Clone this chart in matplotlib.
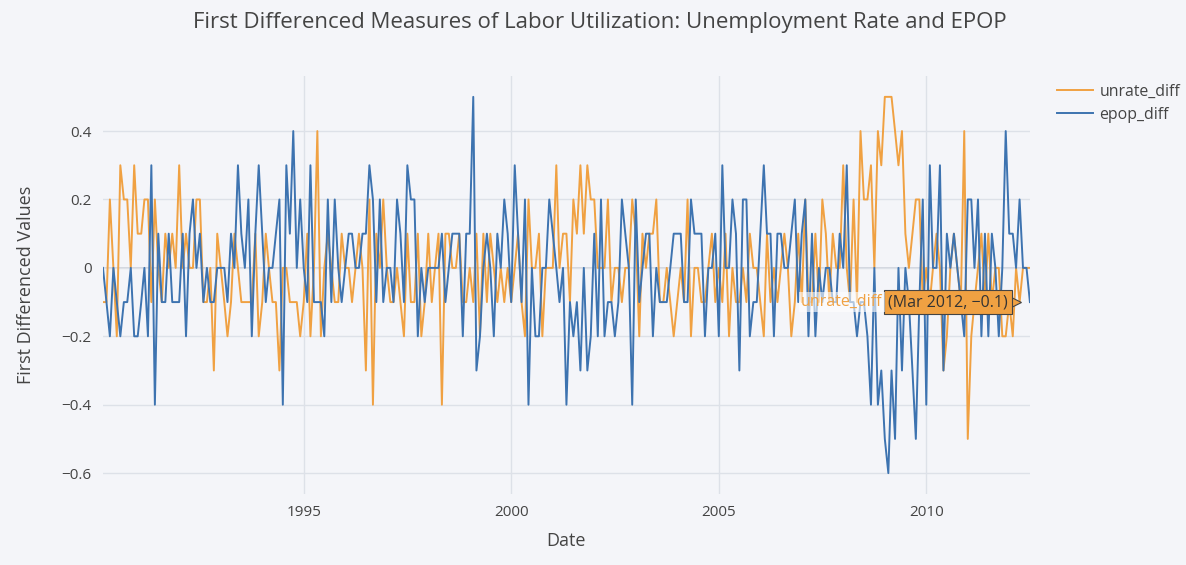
import numpy as np
import pandas as pd
import matplotlib
matplotlib.use('Agg')
import matplotlib.pyplot as plt
import matplotlib.dates as mdates
from matplotlib.transforms import offset_copy

plt.rcParams['font.family'] = ['Open Sans', 'DejaVu Sans']

# monthly first differences, Feb 1990 - Jun 2012 (month-end dates)
dates = pd.date_range('1990-02-28', '2012-06-30', freq='ME')

unrate_diff = [
    # 1990 (Feb-Dec)
    -0.1, -0.1, 0.2, 0.0, -0.2, 0.3, 0.2, 0.2, 0.0, 0.3, 0.1,
    # 1991
    0.1, 0.2, 0.2, -0.1, 0.2, 0.0, -0.1, 0.1, 0.0, 0.1, 0.0, 0.3,
    # 1992
    0.0, 0.1, 0.0, 0.0, 0.2, 0.2, -0.1, -0.1, 0.0, -0.3, 0.1, 0.0,
    # 1993
    -0.1, -0.2, -0.1, 0.1, 0.0, -0.1, -0.1, -0.1, -0.1, 0.1, -0.2, -0.1,
    # 1994
    0.1, 0.0, -0.1, -0.1, -0.3, 0.0, 0.0, -0.1, -0.1, -0.1, -0.2, -0.1,
    # 1995
    0.1, -0.2, 0.0, 0.4, -0.2, 0.0, 0.1, 0.0, -0.1, -0.1, 0.1, 0.0,
    # 1996
    0.0, -0.1, 0.0, 0.1, 0.0, -0.3, 0.2, -0.4, 0.1, 0.0, 0.2, 0.0,
    # 1997
    -0.1, -0.1, 0.0, -0.1, -0.2, 0.1, -0.1, -0.1, 0.1, -0.2, -0.1, 0.1,
    # 1998
    -0.1, 0.0, 0.1, -0.4, 0.1, 0.1, 0.0, 0.0, 0.1, -0.1, -0.1, 0.0,
    # 1999
    -0.1, 0.1, -0.2, 0.1, -0.1, 0.1, 0.0, -0.1, 0.0, -0.1, 0.0, -0.1,
    # 2000
    0.0, 0.1, -0.1, -0.2, 0.2, 0.0, 0.0, 0.1, -0.2, 0.0, 0.0, 0.0,
    # 2001
    0.3, 0.0, 0.1, 0.1, -0.1, 0.2, 0.1, 0.3, 0.1, 0.3, 0.2, 0.2,
    # 2002
    0.0, 0.0, 0.0, 0.2, -0.1, 0.0, 0.0, -0.1, 0.0, 0.0, 0.2, 0.1,
    # 2003
    -0.2, 0.1, 0.0, 0.1, 0.1, 0.2, -0.1, -0.1, 0.0, -0.1, -0.2, -0.1,
    # 2004
    0.0, -0.1, 0.2, -0.2, 0.0, 0.0, -0.1, -0.1, 0.0, 0.1, -0.1, 0.0,
    # 2005
    -0.1, 0.1, -0.2, 0.0, -0.1, -0.1, 0.0, -0.1, 0.1, 0.0, 0.0, -0.1,
    # 2006
    -0.2, 0.1, -0.1, 0.0, -0.1, 0.0, 0.1, 0.0, -0.2, -0.1, 0.1, -0.1,
    # 2007
    0.2, -0.1, -0.1, 0.1, -0.1, 0.2, 0.1, -0.1, 0.1, 0.0, 0.0, 0.3,
    # 2008
    0.0, -0.1, 0.2, -0.1, 0.4, 0.2, 0.2, 0.3, 0.0, 0.4, 0.3, 0.5,
    # 2009
    0.5, 0.5, 0.4, 0.3, 0.4, 0.1, 0.0, 0.1, 0.2, 0.2, -0.1, 0.0,
    # 2010
    -0.1, 0.0, 0.1, 0.0, -0.3, -0.2, 0.0, 0.1, 0.0, -0.1, 0.4, -0.5,
    # 2011
    -0.2, -0.1, 0.0, 0.1, -0.1, 0.1, -0.1, 0.0, 0.0, -0.2, -0.2, -0.1,
    # 2012 (Jan-Jun)
    -0.2, 0.0, -0.1, 0.0, 0.0, 0.0,
]

epop_diff = [
    # 1990 (Feb-Dec)
    0.0, -0.1, -0.2, 0.0, -0.1, -0.2, -0.1, -0.1, 0.0, -0.2, -0.2,
    # 1991
    -0.1, 0.0, -0.2, 0.3, -0.4, 0.1, -0.1, -0.1, 0.1, -0.1, -0.1, -0.1,
    # 1992
    0.1, -0.2, 0.1, 0.2, 0.0, 0.1, -0.1, 0.0, -0.1, -0.1, 0.0, 0.0,
    # 1993
    0.0, -0.1, 0.1, 0.0, 0.3, 0.1, 0.0, 0.2, -0.2, 0.1, 0.3, 0.1,
    # 1994
    -0.1, 0.0, 0.0, 0.1, 0.2, -0.4, 0.3, 0.1, 0.4, 0.0, 0.2, 0.0,
    # 1995
    -0.1, 0.3, -0.1, -0.1, -0.1, -0.2, 0.2, -0.1, 0.2, 0.0, -0.1, 0.0,
    # 1996
    0.1, 0.1, 0.0, 0.0, 0.1, 0.1, 0.3, 0.2, -0.1, 0.2, -0.1, 0.0,
    # 1997
    0.0, -0.1, 0.2, 0.1, -0.1, 0.3, 0.2, 0.2, -0.2, 0.0, -0.1, 0.0,
    # 1998
    0.0, 0.0, 0.0, 0.1, -0.1, 0.0, 0.1, 0.1, 0.1, -0.2, 0.1, 0.1,
    # 1999
    0.5, -0.3, -0.2, 0.0, 0.1, 0.0, -0.2, 0.1, 0.0, 0.2, 0.1, -0.1,
    # 2000
    0.3, 0.1, -0.1, 0.2, -0.4, 0.0, -0.2, -0.2, 0.0, 0.0, 0.2, 0.1,
    # 2001
    0.0, -0.1, 0.0, -0.4, -0.1, -0.2, -0.1, -0.3, 0.0, -0.3, -0.2, 0.1,
    # 2002
    -0.2, 0.2, -0.2, -0.1, -0.1, -0.2, -0.1, 0.2, 0.1, 0.0, -0.4, 0.2,
    # 2003
    -0.1, 0.0, 0.1, 0.1, -0.2, 0.0, -0.1, -0.1, -0.1, 0.0, 0.1, 0.1,
    # 2004
    0.1, -0.1, -0.1, 0.2, 0.1, 0.1, 0.1, -0.2, 0.0, 0.0, 0.1, -0.2,
    # 2005
    0.3, 0.0, 0.0, 0.2, 0.1, -0.3, 0.2, 0.2, -0.2, -0.1, -0.1, 0.1,
    # 2006
    0.3, 0.1, 0.1, -0.2, 0.1, 0.1, 0.0, 0.0, 0.1, 0.2, -0.1, 0.1,
    # 2007
    0.2, -0.2, 0.1, -0.2, 0.0, -0.1, 0.0, 0.0, -0.1, -0.1, 0.1, 0.0,
    # 2008
    0.3, -0.1, -0.1, -0.2, -0.1, -0.1, -0.2, -0.4, 0.0, -0.4, -0.3, -0.5,
    # 2009
    -0.6, -0.3, -0.5, 0.0, -0.3, 0.0, -0.1, -0.3, -0.5, -0.1, 0.2, -0.4,
    # 2010
    0.3, 0.0, 0.0, 0.3, -0.3, 0.1, 0.0, 0.1, 0.0, -0.1, -0.2, 0.2,
    # 2011
    0.2, 0.0, 0.2, -0.2, 0.1, -0.2, 0.1, 0.0, -0.2, 0.0, 0.4, 0.1,
    # 2012 (Jan-Jun)
    0.1, 0.0, 0.2, 0.0, 0.0, -0.1,
]

ytick_vals = [-0.6, -0.4, -0.2, 0, 0.2, 0.4]
ytick_labels = ['\u22120.6', '\u22120.4', '\u22120.2', '0', '0.2', '0.4']
xtick_years = [1995, 2000, 2005, 2010]

hover_date = pd.Timestamp('2012-03-31')
hover_value = -0.1
hover_text = '(Mar 2012, \u22120.1)'

orange = '#F0A142'
blue = '#3D73B0'
bg = '#F4F5F9'
grid = '#DDE1E8'
text_col = '#444444'

fig = plt.figure(figsize=(11.86, 5.65), dpi=100)
fig.patch.set_facecolor(bg)
ax = fig.add_axes([0.0868, 0.1257, 0.7816, 0.7398])
ax.set_facecolor(bg)

ax.plot(dates, unrate_diff, color=orange, lw=1.4, label='unrate_diff', zorder=3)
ax.plot(dates, epop_diff, color=blue, lw=1.4, label='epop_diff', zorder=3)

ax.set_xlim(dates[0], dates[-1])
ax.set_ylim(-0.661, 0.561)

ax.set_yticks(ytick_vals)
ax.set_yticklabels(ytick_labels)
ax.set_xticks([pd.Timestamp(f'{y}-01-01') for y in xtick_years])
ax.xaxis.set_major_formatter(mdates.DateFormatter('%Y'))

ax.grid(True, color=grid, lw=1, zorder=0)
ax.axhline(0, color='#D3D7DF', lw=1.4, zorder=1)
for s in ax.spines.values():
    s.set_visible(False)
ax.tick_params(length=0, labelsize=11, colors=text_col, pad=8)

ax.set_xlabel('Date', fontsize=13, color=text_col, labelpad=8.5)
ax.set_ylabel('First Differenced Values', fontsize=13, color=text_col, labelpad=19)

fig.text(0.506, 0.96, 'First Differenced Measures of Labor Utilization: Unemployment Rate and EPOP',
         ha='center', va='center', fontsize=16, color=text_col)

fig.legend(loc='upper left', bbox_to_anchor=(1057 / 1186, 1 - 84 / 565), frameon=False,
           fontsize=11.4, labelcolor=text_col, handlelength=2.28, handletextpad=0.4,
           labelspacing=0.42, borderpad=0, borderaxespad=0)

# hover label
ax.plot([hover_date], [hover_value], marker='>', ms=8, color=orange,
        mec='#444444', mew=0.8, transform=offset_copy(ax.transData, fig=fig, x=-5, y=0, units='dots'),
        zorder=5, clip_on=False)
ax.text(hover_date, hover_value, hover_text, ha='right', va='center', fontsize=11.5,
        color='#333333', zorder=6,
        transform=offset_copy(ax.transData, fig=fig, x=-12, y=0, units='dots'),
        bbox=dict(boxstyle='square,pad=0.25', fc=orange, ec='#444444', lw=0.8))
ax.text(hover_date, hover_value, 'unrate_diff', ha='right', va='center', fontsize=11.5,
        color=orange, zorder=6,
        transform=offset_copy(ax.transData, fig=fig, x=-137, y=0, units='dots'),
        bbox=dict(boxstyle='square,pad=0.15', fc='white', ec='none', alpha=0.6))

fig.savefig('out.png', dpi=100, facecolor=bg)
